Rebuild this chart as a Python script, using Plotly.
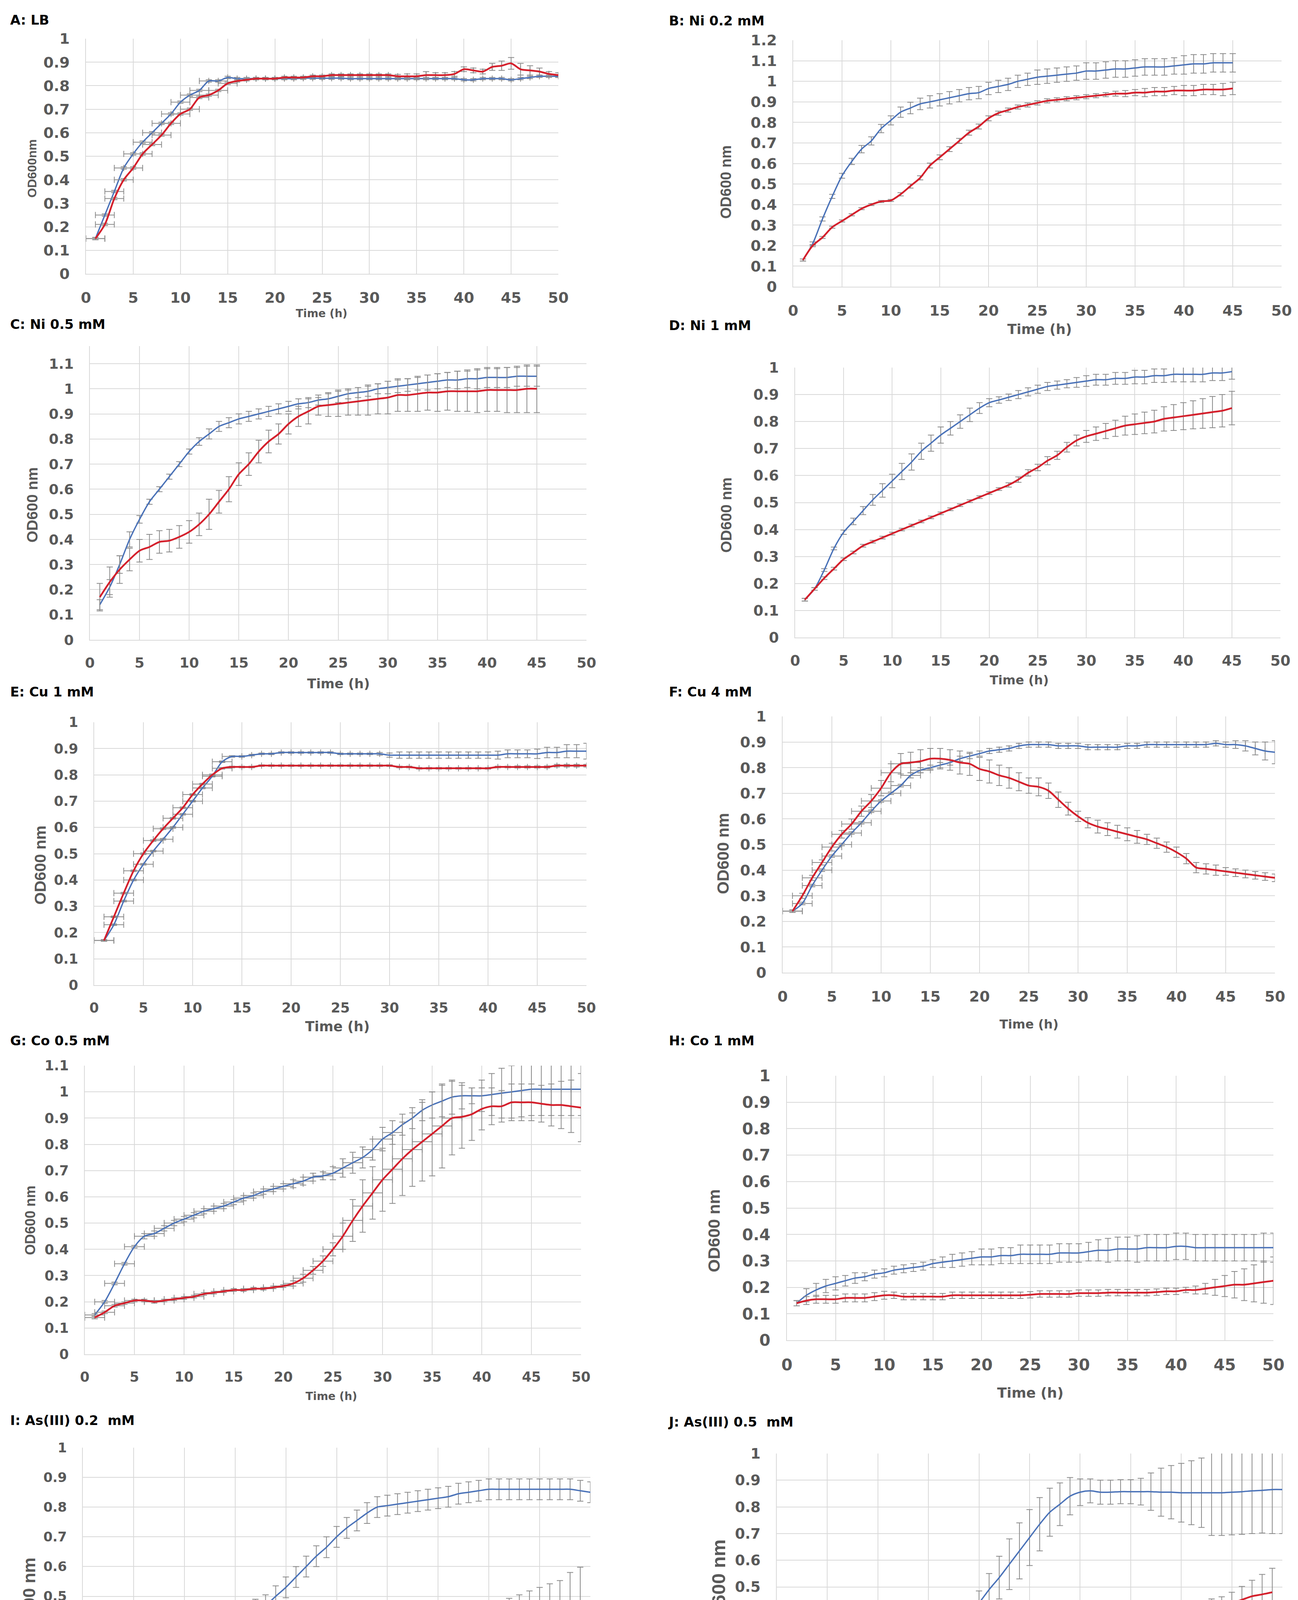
import plotly.graph_objects as go

W, H = 3322, 5624

# time axes (hours)
hours_1_45 = list(range(1, 46))
hours_1_48 = list(range(1, 49))
hours_1_50 = list(range(1, 51))
hours_0_49 = list(range(0, 50))
hours_0_50 = list(range(0, 51))

# ---- A: LB ----
A_blue = [0.15, 0.25, 0.35, 0.45, 0.51, 0.56, 0.60, 0.64, 0.68, 0.73,
          0.76, 0.78, 0.82, 0.82, 0.835, 0.83, 0.83, 0.83, 0.83, 0.83,
          0.83, 0.83, 0.832, 0.832, 0.832, 0.832, 0.832, 0.83, 0.83, 0.83,
          0.83, 0.83, 0.83, 0.83, 0.83, 0.83, 0.83, 0.83, 0.83, 0.825,
          0.825, 0.83, 0.83, 0.83, 0.825, 0.83, 0.835, 0.84, 0.84, 0.84]
A_blue_err = [0.005, 0.005, 0.005, 0.005, 0.005, 0.005, 0.005, 0.005, 0.005, 0.005,
              0.005, 0.005, 0.005, 0.005, 0.005, 0.005, 0.005, 0.005, 0.005, 0.005,
              0.005, 0.005, 0.005, 0.005, 0.005, 0.005, 0.005, 0.005, 0.005, 0.005,
              0.005, 0.005, 0.005, 0.005, 0.005, 0.005, 0.005, 0.005, 0.005, 0.005,
              0.005, 0.005, 0.005, 0.005, 0.005, 0.005, 0.005, 0.005, 0.005, 0.005]
A_blue_xerr = [1, 1, 1, 1, 1, 1, 1, 1, 1, 1,
               1, 1, 1, 1, None, None, None, None, None, None] + [None] * 30
A_red = [0.15, 0.21, 0.32, 0.40, 0.45, 0.51, 0.55, 0.59, 0.64, 0.68,
         0.70, 0.75, 0.76, 0.78, 0.81, 0.82, 0.825, 0.83, 0.83, 0.83,
         0.835, 0.835, 0.835, 0.84, 0.84, 0.845, 0.845, 0.845, 0.845, 0.845,
         0.845, 0.845, 0.84, 0.84, 0.84, 0.845, 0.845, 0.845, 0.85, 0.87,
         0.865, 0.86, 0.88, 0.885, 0.895, 0.87, 0.865, 0.86, 0.85, 0.845]
A_red_err = [0.005, 0.005, 0.005, 0.005, 0.005, 0.005, 0.005, 0.005, 0.005, 0.005,
             0.005, 0.005, 0.005, 0.005, 0.005, 0.005, 0.005, 0.005, 0.005, 0.005,
             0.005, 0.005, 0.005, 0.005, 0.005, 0.005, 0.005, 0.005, 0.005, 0.005,
             0.005, 0.005, 0.008, 0.01, 0.01, 0.015, 0.01, 0.01, 0.01, 0.01,
             0.01, 0.01, 0.015, 0.02, 0.025, 0.025, 0.02, 0.015, 0.01, 0.01]
A_red_xerr = [1, 1, 1, 1, 1, 1, 1, 1, 1, 1,
              1, 1, 1, 1, 1, None, None, None, None, None] + [None] * 30

# ---- B: Ni 0.2 mM ----
B_blue = [0.13, 0.21, 0.33, 0.44, 0.54, 0.61, 0.67, 0.71, 0.77, 0.81,
          0.85, 0.87, 0.89, 0.90, 0.91, 0.92, 0.93, 0.94, 0.945, 0.965,
          0.975, 0.985, 1.0, 1.01, 1.02, 1.025, 1.03, 1.035, 1.04, 1.05,
          1.05, 1.055, 1.06, 1.06, 1.065, 1.07, 1.07, 1.07, 1.075, 1.08,
          1.085, 1.085, 1.09, 1.09, 1.09]
B_blue_err = [0.005, 0.008, 0.01, 0.01, 0.012, 0.015, 0.018, 0.02, 0.02, 0.022,
              0.025, 0.028, 0.028, 0.03, 0.03, 0.03, 0.03, 0.03, 0.03, 0.03,
              0.03, 0.03, 0.03, 0.03, 0.035, 0.035, 0.035, 0.035, 0.035, 0.04,
              0.04, 0.04, 0.04, 0.04, 0.04, 0.04, 0.04, 0.04, 0.04, 0.045,
              0.045, 0.045, 0.045, 0.045, 0.045]
B_red = [0.13, 0.20, 0.24, 0.29, 0.32, 0.35, 0.38, 0.40, 0.415, 0.42,
         0.45, 0.49, 0.53, 0.59, 0.63, 0.67, 0.71, 0.75, 0.78, 0.82,
         0.845, 0.86, 0.875, 0.885, 0.895, 0.905, 0.91, 0.915, 0.92, 0.925,
         0.93, 0.935, 0.94, 0.94, 0.945, 0.945, 0.95, 0.95, 0.955, 0.955,
         0.955, 0.96, 0.96, 0.96, 0.965]
B_red_err = [0.005, 0.005, 0.005, 0.005, 0.005, 0.005, 0.005, 0.005, 0.005, 0.005,
             0.008, 0.01, 0.01, 0.012, 0.012, 0.012, 0.012, 0.012, 0.012, 0.012,
             0.01, 0.01, 0.01, 0.01, 0.01, 0.01, 0.01, 0.01, 0.01, 0.01,
             0.01, 0.01, 0.012, 0.015, 0.015, 0.02, 0.02, 0.02, 0.02, 0.025,
             0.025, 0.025, 0.025, 0.03, 0.03]

# ---- C: Ni 0.5 mM ----
C_blue = [0.14, 0.21, 0.30, 0.40, 0.48, 0.55, 0.60, 0.65, 0.70, 0.75,
          0.79, 0.82, 0.85, 0.865, 0.88, 0.89, 0.90, 0.91, 0.92, 0.93,
          0.94, 0.945, 0.955, 0.96, 0.97, 0.98, 0.985, 0.99, 1.0, 1.005,
          1.01, 1.015, 1.02, 1.025, 1.03, 1.035, 1.035, 1.04, 1.04, 1.045,
          1.045, 1.045, 1.05, 1.05, 1.05]
C_blue_err = [0.02, 0.03, 0.035, 0.03, 0.015, 0.01, 0.01, 0.01, 0.01, 0.01,
              0.015, 0.02, 0.02, 0.02, 0.02, 0.02, 0.02, 0.02, 0.02, 0.02,
              0.02, 0.02, 0.02, 0.025, 0.025, 0.02, 0.02, 0.02, 0.02, 0.025,
              0.025, 0.025, 0.025, 0.03, 0.03, 0.03, 0.035, 0.035, 0.04, 0.04,
              0.04, 0.04, 0.04, 0.04, 0.04]
C_red = [0.17, 0.23, 0.28, 0.32, 0.355, 0.37, 0.39, 0.395, 0.41, 0.43,
         0.46, 0.50, 0.55, 0.60, 0.66, 0.70, 0.75, 0.79, 0.82, 0.86,
         0.89, 0.91, 0.93, 0.935, 0.94, 0.945, 0.95, 0.955, 0.96, 0.965,
         0.975, 0.975, 0.98, 0.985, 0.985, 0.99, 0.99, 0.99, 0.99, 0.995,
         0.995, 0.995, 0.995, 1.0, 1.0]
C_red_err = [0.055, 0.06, 0.055, 0.045, 0.045, 0.05, 0.045, 0.045, 0.045, 0.045,
             0.045, 0.06, 0.045, 0.05, 0.045, 0.045, 0.045, 0.045, 0.04, 0.04,
             0.04, 0.05, 0.035, 0.045, 0.05, 0.05, 0.055, 0.06, 0.06, 0.065,
             0.065, 0.065, 0.07, 0.07, 0.075, 0.075, 0.08, 0.08, 0.085, 0.085,
             0.085, 0.09, 0.09, 0.095, 0.095]

# ---- D: Ni 1 mM ----
D_blue = [0.14, 0.18, 0.25, 0.33, 0.39, 0.43, 0.47, 0.51, 0.545, 0.58,
          0.615, 0.65, 0.69, 0.72, 0.75, 0.775, 0.80, 0.825, 0.85, 0.87,
          0.88, 0.89, 0.90, 0.91, 0.92, 0.93, 0.935, 0.94, 0.945, 0.95,
          0.955, 0.955, 0.96, 0.96, 0.965, 0.965, 0.97, 0.97, 0.975, 0.975,
          0.975, 0.975, 0.98, 0.98, 0.985]
D_blue_err = [0.005, 0.005, 0.005, 0.005, 0.008, 0.012, 0.015, 0.02, 0.025, 0.025,
              0.03, 0.03, 0.03, 0.03, 0.03, 0.025, 0.025, 0.025, 0.02, 0.015,
              0.012, 0.012, 0.015, 0.015, 0.015, 0.015, 0.015, 0.015, 0.018, 0.02,
              0.02, 0.02, 0.022, 0.022, 0.025, 0.025, 0.025, 0.025, 0.028, 0.028,
              0.028, 0.028, 0.028, 0.028, 0.028]
D_red = [0.14, 0.18, 0.22, 0.255, 0.29, 0.315, 0.34, 0.355, 0.37, 0.385,
         0.40, 0.415, 0.43, 0.445, 0.46, 0.475, 0.49, 0.505, 0.52, 0.535,
         0.55, 0.565, 0.585, 0.61, 0.63, 0.655, 0.675, 0.705, 0.73, 0.745,
         0.755, 0.765, 0.775, 0.785, 0.79, 0.795, 0.80, 0.81, 0.815, 0.82,
         0.825, 0.83, 0.835, 0.84, 0.85]
D_red_err = [0.005, 0.005, 0.005, 0.005, 0.005, 0.005, 0.005, 0.005, 0.005, 0.005,
             0.005, 0.005, 0.005, 0.005, 0.005, 0.005, 0.005, 0.005, 0.005, 0.005,
             0.005, 0.008, 0.01, 0.012, 0.012, 0.015, 0.015, 0.018, 0.02, 0.022,
             0.025, 0.028, 0.03, 0.035, 0.038, 0.04, 0.042, 0.045, 0.048, 0.05,
             0.052, 0.055, 0.058, 0.06, 0.062]

# ---- E: Cu 1 mM ----
E_blue = [0.17, 0.23, 0.32, 0.40, 0.46, 0.51, 0.555, 0.60, 0.65, 0.70,
          0.75, 0.795, 0.85, 0.87, 0.87, 0.875, 0.88, 0.88, 0.885, 0.885,
          0.885, 0.885, 0.885, 0.885, 0.88, 0.88, 0.88, 0.88, 0.88, 0.875,
          0.875, 0.875, 0.875, 0.875, 0.875, 0.875, 0.875, 0.875, 0.875, 0.875,
          0.875, 0.88, 0.88, 0.88, 0.88, 0.885, 0.885, 0.89, 0.89, 0.89]
E_blue_err = [0.003, 0.003, 0.003, 0.003, 0.003, 0.003, 0.003, 0.003, 0.003, 0.003,
              0.003, 0.003, 0.003, 0.003, 0.003, 0.003, 0.003, 0.003, 0.003, 0.003,
              0.003, 0.003, 0.003, 0.003, 0.003, 0.003, 0.003, 0.003, 0.005, 0.008,
              0.012, 0.012, 0.012, 0.012, 0.012, 0.012, 0.012, 0.012, 0.012, 0.012,
              0.015, 0.015, 0.015, 0.015, 0.018, 0.02, 0.02, 0.025, 0.025, 0.03]
E_blue_xerr = [1, 1, 1, 1, 1, 1, 1, 1, 1, 1,
               1, 1, 1, 1, None, None, None, None, None, None] + [None] * 30
E_red = [0.17, 0.26, 0.35, 0.435, 0.50, 0.55, 0.595, 0.635, 0.675, 0.725,
         0.765, 0.80, 0.825, 0.83, 0.83, 0.83, 0.835, 0.835, 0.835, 0.835,
         0.835, 0.835, 0.835, 0.835, 0.835, 0.835, 0.835, 0.835, 0.835, 0.835,
         0.83, 0.83, 0.825, 0.825, 0.825, 0.825, 0.825, 0.825, 0.825, 0.825,
         0.83, 0.83, 0.83, 0.83, 0.83, 0.83, 0.835, 0.835, 0.835, 0.835]
E_red_err = [0.003, 0.003, 0.003, 0.003, 0.003, 0.003, 0.003, 0.003, 0.003, 0.003,
             0.003, 0.003, 0.003, 0.003, 0.003, 0.003, 0.003, 0.003, 0.003, 0.003,
             0.003, 0.003, 0.003, 0.003, 0.003, 0.003, 0.003, 0.003, 0.003, 0.003,
             0.003, 0.003, 0.003, 0.003, 0.003, 0.003, 0.003, 0.003, 0.003, 0.003,
             0.003, 0.003, 0.004, 0.004, 0.004, 0.004, 0.005, 0.005, 0.005, 0.005]
E_red_xerr = [1, 1, 1, 1, 1, 1, 1, 1, 1, 1,
              1, 1, 1, None, None, None, None, None, None, None] + [None] * 30

# ---- F: Cu 4 mM ----
F_blue = [0.24, 0.27, 0.34, 0.40, 0.455, 0.50, 0.545, 0.585, 0.63, 0.67,
          0.70, 0.73, 0.77, 0.79, 0.80, 0.81, 0.82, 0.835, 0.845, 0.855,
          0.865, 0.87, 0.875, 0.885, 0.89, 0.89, 0.89, 0.885, 0.885, 0.885,
          0.88, 0.88, 0.88, 0.88, 0.885, 0.885, 0.89, 0.89, 0.89, 0.89,
          0.89, 0.89, 0.89, 0.895, 0.89, 0.89, 0.885, 0.875, 0.865, 0.86]
F_blue_err = [0.005, 0.005, 0.005, 0.005, 0.005, 0.005, 0.005, 0.005, 0.005, 0.005,
              0.005, 0.005, 0.01, 0.01, 0.01, 0.01, 0.01, 0.01, 0.01, 0.01,
              0.01, 0.01, 0.01, 0.01, 0.01, 0.01, 0.01, 0.01, 0.01, 0.01,
              0.01, 0.01, 0.01, 0.01, 0.01, 0.01, 0.01, 0.01, 0.01, 0.01,
              0.01, 0.01, 0.01, 0.01, 0.01, 0.015, 0.02, 0.025, 0.035, 0.045]
F_blue_xerr = [1, 1, 1, 1, 1, 1, 1, 1, 1, 1,
               1, 1, 1, 1, None, None, None, None, None, None] + [None] * 30
F_red = [0.24, 0.30, 0.37, 0.43, 0.49, 0.54, 0.58, 0.63, 0.67, 0.72,
         0.78, 0.815, 0.82, 0.825, 0.835, 0.835, 0.83, 0.82, 0.815, 0.795,
         0.785, 0.77, 0.76, 0.745, 0.73, 0.725, 0.71, 0.675, 0.64, 0.61,
         0.585, 0.57, 0.56, 0.55, 0.54, 0.53, 0.52, 0.505, 0.49, 0.47,
         0.445, 0.41, 0.405, 0.40, 0.395, 0.39, 0.385, 0.38, 0.375, 0.37]
F_red_err = [0.005, 0.01, 0.01, 0.01, 0.015, 0.015, 0.02, 0.02, 0.025, 0.03,
             0.035, 0.04, 0.04, 0.045, 0.04, 0.04, 0.04, 0.045, 0.045, 0.045,
             0.045, 0.04, 0.04, 0.035, 0.03, 0.035, 0.03, 0.03, 0.025, 0.02,
             0.02, 0.025, 0.025, 0.025, 0.025, 0.025, 0.02, 0.02, 0.02, 0.02,
             0.02, 0.02, 0.02, 0.02, 0.015, 0.015, 0.015, 0.015, 0.015, 0.015]
F_red_xerr = [1, 1, 1, 1, 1, 1, 1, 1, 1, 1,
              1, 1, 1, None, None, None, None, None, None, None] + [None] * 30

# ---- G: Co 0.5 mM ----
G_blue = [0.15, 0.20, 0.27, 0.345, 0.41, 0.45, 0.46, 0.48, 0.50, 0.515,
          0.53, 0.545, 0.555, 0.565, 0.58, 0.595, 0.605, 0.62, 0.63, 0.64,
          0.65, 0.66, 0.675, 0.68, 0.69, 0.71, 0.73, 0.75, 0.78, 0.82,
          0.845, 0.875, 0.90, 0.93, 0.95, 0.965, 0.98, 0.985, 0.985, 0.985,
          0.99, 0.995, 1.0, 1.005, 1.01, 1.01, 1.01, 1.01, 1.01, 1.01]
G_blue_err = [0.005, 0.005, 0.005, 0.005, 0.005, 0.01, 0.01, 0.01, 0.01, 0.01,
              0.01, 0.01, 0.01, 0.01, 0.01, 0.01, 0.01, 0.01, 0.01, 0.01,
              0.015, 0.015, 0.015, 0.015, 0.025, 0.035, 0.04, 0.04, 0.04, 0.045,
              0.045, 0.04, 0.04, 0.04, 0.05, 0.06, 0.065, 0.05, 0.03, 0.06,
              0.08, 0.095, 0.1, 0.1, 0.1, 0.1, 0.1, 0.1, 0.1, 0.1]
G_blue_xerr = [1, 1, 1, 1, 1, 1, 1, 1, 1, 1,
               1, 1, 1, 1, 1, 1, 1, 1, 1, 1,
               1, 1, 1, 1, 1, 1, 1, 1, 1, 1,
               1, None, None, None, None, None, None, None, None, None] + [None] * 10
G_red = [0.14, 0.16, 0.185, 0.195, 0.205, 0.205, 0.20, 0.205, 0.21, 0.215,
         0.22, 0.23, 0.235, 0.24, 0.245, 0.245, 0.25, 0.25, 0.255, 0.26,
         0.27, 0.29, 0.32, 0.355, 0.40, 0.45, 0.51, 0.565, 0.615, 0.665,
         0.705, 0.745, 0.78, 0.81, 0.84, 0.87, 0.90, 0.905, 0.915, 0.935,
         0.945, 0.945, 0.96, 0.96, 0.96, 0.955, 0.95, 0.95, 0.945, 0.94]
G_red_err = [0.005, 0.005, 0.005, 0.005, 0.005, 0.005, 0.005, 0.005, 0.005, 0.005,
             0.005, 0.005, 0.005, 0.005, 0.005, 0.005, 0.005, 0.005, 0.005, 0.005,
             0.01, 0.015, 0.015, 0.02, 0.025, 0.05, 0.08, 0.1, 0.1, 0.12,
             0.13, 0.14, 0.14, 0.15, 0.16, 0.16, 0.14, 0.12, 0.1, 0.08,
             0.07, 0.06, 0.07, 0.07, 0.07, 0.07, 0.08, 0.09, 0.1, 0.13]
G_red_xerr = [1, 1, 1, 1, 1, 1, 1, 1, 1, 1,
              1, 1, 1, 1, 1, 1, 1, 1, 1, 1,
              1, 1, 1, 1, 1, 1, 1, 1, 1, 1,
              1, 1, 1, 1, 1, 1, 1, None, None, None] + [None] * 10

# ---- H: Co 1 mM ----
H_blue = [0.14, 0.17, 0.19, 0.205, 0.215, 0.225, 0.235, 0.24, 0.25, 0.255,
          0.265, 0.27, 0.275, 0.28, 0.29, 0.295, 0.30, 0.305, 0.31, 0.315,
          0.315, 0.32, 0.32, 0.325, 0.325, 0.325, 0.325, 0.33, 0.33, 0.33,
          0.335, 0.34, 0.34, 0.345, 0.345, 0.345, 0.35, 0.35, 0.35, 0.355,
          0.355, 0.35, 0.35, 0.35, 0.35, 0.35, 0.35, 0.35, 0.35, 0.35]
H_blue_err = [0.01, 0.025, 0.025, 0.025, 0.025, 0.02, 0.02, 0.015, 0.015, 0.015,
              0.015, 0.015, 0.015, 0.015, 0.015, 0.02, 0.025, 0.025, 0.025, 0.03,
              0.03, 0.03, 0.03, 0.035, 0.035, 0.035, 0.035, 0.035, 0.035, 0.035,
              0.035, 0.04, 0.045, 0.045, 0.045, 0.05, 0.05, 0.05, 0.05, 0.05,
              0.05, 0.05, 0.05, 0.05, 0.05, 0.05, 0.05, 0.05, 0.055, 0.055]
H_red = [0.14, 0.15, 0.155, 0.155, 0.155, 0.16, 0.16, 0.16, 0.165, 0.17,
         0.17, 0.165, 0.165, 0.165, 0.165, 0.165, 0.17, 0.17, 0.17, 0.17,
         0.17, 0.17, 0.17, 0.17, 0.172, 0.175, 0.175, 0.175, 0.175, 0.178,
         0.178, 0.178, 0.18, 0.18, 0.18, 0.18, 0.18, 0.182, 0.185, 0.185,
         0.19, 0.19, 0.195, 0.20, 0.205, 0.21, 0.21, 0.215, 0.22, 0.225]
H_red_err = [0.01, 0.015, 0.015, 0.015, 0.015, 0.015, 0.015, 0.015, 0.015, 0.015,
             0.012, 0.012, 0.012, 0.012, 0.012, 0.012, 0.012, 0.012, 0.012, 0.012,
             0.012, 0.012, 0.012, 0.012, 0.012, 0.012, 0.012, 0.012, 0.012, 0.012,
             0.012, 0.012, 0.012, 0.012, 0.012, 0.012, 0.012, 0.012, 0.012, 0.012,
             0.01, 0.015, 0.02, 0.03, 0.04, 0.05, 0.06, 0.07, 0.08, 0.09]

# ---- I: As(III) 0.2 mM ----
I_blue = [0.12, 0.13, 0.145, 0.165, 0.19, 0.215, 0.25, 0.285, 0.31, 0.335,
          0.36, 0.385, 0.40, 0.41, 0.42, 0.43, 0.44, 0.455, 0.47, 0.50,
          0.53, 0.565, 0.60, 0.635, 0.665, 0.70, 0.73, 0.755, 0.78, 0.80,
          0.805, 0.81, 0.815, 0.82, 0.825, 0.83, 0.835, 0.845, 0.85, 0.855,
          0.86, 0.86, 0.86, 0.86, 0.86, 0.86, 0.86, 0.86, 0.86, 0.855, 0.85]
I_blue_err = [0.035, 0.035, 0.035, 0.035, 0.035, 0.035, 0.035, 0.035, 0.035, 0.035,
              0.035, 0.035, 0.035, 0.035, 0.035, 0.035, 0.035, 0.035, 0.035, 0.035,
              0.035, 0.035, 0.035, 0.035, 0.035, 0.035, 0.035, 0.035, 0.035, 0.035,
              0.035, 0.035, 0.035, 0.035, 0.035, 0.035, 0.035, 0.035, 0.035, 0.035,
              0.035, 0.035, 0.035, 0.035, 0.035, 0.035, 0.035, 0.035, 0.035, 0.035, 0.035]
I_red = [0.13, 0.15, 0.185, 0.235, 0.28, 0.32, 0.345, 0.355, 0.36, 0.365,
         0.368, 0.37, 0.37, 0.37, 0.37, 0.37, 0.37, 0.37, 0.37, 0.37,
         0.37, 0.37, 0.368, 0.368, 0.368, 0.367, 0.367, 0.366, 0.365, 0.362,
         0.36, 0.36, 0.36, 0.362, 0.366, 0.37, 0.375, 0.383, 0.39, 0.40,
         0.41, 0.42, 0.428, 0.435, 0.443, 0.45, 0.457, 0.463, 0.47, 0.478]
I_red_err = [0.004, 0.004, 0.004, 0.004, 0.004, 0.004, 0.004, 0.004, 0.004, 0.004,
             0.004, 0.004, 0.004, 0.004, 0.004, 0.004, 0.004, 0.004, 0.004, 0.004,
             0.004, 0.004, 0.004, 0.004, 0.004, 0.004, 0.004, 0.004, 0.008, 0.012,
             0.015, 0.02, 0.025, 0.025, 0.03, 0.03, 0.035, 0.04, 0.045, 0.05,
             0.055, 0.06, 0.065, 0.07, 0.075, 0.08, 0.085, 0.09, 0.11, 0.12]

# ---- J: As(III) 0.5 mM ----
J_blue = [0.13, 0.145, 0.165, 0.18, 0.19, 0.20, 0.205, 0.21, 0.215, 0.218,
          0.22, 0.225, 0.23, 0.24, 0.25, 0.265, 0.29, 0.32, 0.36, 0.40,
          0.44, 0.49, 0.535, 0.585, 0.635, 0.685, 0.735, 0.78, 0.81, 0.84,
          0.855, 0.86, 0.855, 0.855, 0.857, 0.857, 0.857, 0.857, 0.855, 0.855,
          0.853, 0.853, 0.853, 0.853, 0.853, 0.855, 0.857, 0.86, 0.862, 0.865, 0.865]
J_blue_err = [0.003, 0.003, 0.003, 0.003, 0.003, 0.003, 0.003, 0.003, 0.003, 0.003,
              0.005, 0.005, 0.005, 0.005, 0.01, 0.015, 0.02, 0.025, 0.03, 0.035,
              0.045, 0.06, 0.08, 0.095, 0.105, 0.105, 0.1, 0.09, 0.08, 0.07,
              0.05, 0.045, 0.045, 0.045, 0.045, 0.045, 0.05, 0.07, 0.09, 0.1,
              0.11, 0.12, 0.13, 0.16, 0.16, 0.16, 0.16, 0.16, 0.16, 0.165, 0.165]
J_red = [0.13, 0.145, 0.17, 0.19, 0.20, 0.21, 0.218, 0.225, 0.232, 0.238,
         0.245, 0.252, 0.26, 0.27, 0.278, 0.287, 0.295, 0.303, 0.31, 0.318,
         0.32, 0.322, 0.325, 0.33, 0.332, 0.335, 0.338, 0.34, 0.343, 0.347,
         0.35, 0.352, 0.355, 0.358, 0.365, 0.372, 0.375, 0.38, 0.385, 0.39,
         0.397, 0.405, 0.415, 0.42, 0.428, 0.44, 0.452, 0.465, 0.472, 0.48]
J_red_err = [0.005, 0.005, 0.005, 0.005, 0.005, 0.005, 0.005, 0.005, 0.005, 0.005,
             0.01, 0.01, 0.012, 0.015, 0.015, 0.018, 0.02, 0.02, 0.022, 0.022,
             0.022, 0.025, 0.025, 0.022, 0.022, 0.022, 0.022, 0.022, 0.02, 0.02,
             0.02, 0.02, 0.02, 0.022, 0.022, 0.022, 0.022, 0.022, 0.022, 0.025,
             0.025, 0.03, 0.03, 0.035, 0.035, 0.04, 0.05, 0.06, 0.075, 0.09]

# ---- K: As(V) 0.2 mM ----
K_blue = [0.15, 0.22, 0.30, 0.37, 0.43, 0.46, 0.48, 0.495, 0.505, 0.515,
          0.525, 0.53, 0.54, 0.55, 0.56, 0.57, 0.58, 0.59, 0.60, 0.61,
          0.63, 0.665, 0.70, 0.745, 0.79, 0.83, 0.865, 0.895, 0.92, 0.95,
          0.97, 0.99, 1.03, 1.035, 1.04, 1.04, 1.045, 1.045, 1.045, 1.045,
          1.045, 1.05, 1.05, 1.05, 1.065, 1.07, 1.07, 1.07]
K_blue_err = [0.005, 0.01, 0.015, 0.015, 0.015, 0.015, 0.02, 0.02, 0.02, 0.025,
              0.025, 0.025, 0.025, 0.025, 0.025, 0.025, 0.025, 0.025, 0.025, 0.025,
              0.025, 0.02, 0.03, 0.03, 0.03, 0.03, 0.03, 0.03, 0.04, 0.04,
              0.04, 0.05, 0.05, 0.05, 0.05, 0.05, 0.05, 0.05, 0.05, 0.05,
              0.05, 0.05, 0.05, 0.05, 0.05, 0.05, 0.05, 0.05]
K_blue_xerr = [None, None, None, None, None, None, None, None, None, None,
               None, None, None, None, None, None, None, None, None, None,
               1, 1, 1, 1, 1, 1, 1, 1, 1, 1,
               1, 1, 1, 1, 1, None, None, None, None, None,
               None, None, None, 1, 1, 1, 1, 2]
K_red = [0.145, 0.20, 0.26, 0.31, 0.355, 0.39, 0.43, 0.49, 0.56, 0.58,
         0.60, 0.625, 0.635, 0.645, 0.675, 0.675, 0.68, 0.69, 0.695, 0.705,
         0.71, 0.73, 0.725, 0.73, 0.735, 0.735, 0.735, 0.735, 0.735, 0.735,
         0.735, 0.73, 0.73, 0.73, 0.735, 0.735, 0.74, 0.74, 0.74, 0.745,
         0.75, 0.75, 0.75, 0.75, 0.745, 0.73, 0.73, 0.725]
K_red_err = [0.005, 0.005, 0.005, 0.005, 0.005, 0.005, 0.005, 0.01, 0.01, 0.01,
             0.01, 0.01, 0.01, 0.01, 0.015, 0.015, 0.015, 0.015, 0.015, 0.015,
             0.015, 0.015, 0.015, 0.02, 0.025, 0.025, 0.025, 0.03, 0.03, 0.03,
             0.03, 0.03, 0.03, 0.03, 0.03, 0.03, 0.03, 0.02, 0.02, 0.015,
             0.015, 0.015, 0.01, 0.01, 0.01, 0.01, 0.01, 0.01]
K_red_xerr = [None, None, None, None, None, None, None, None, None, None,
              None, None, None, None, None, None, None, None, None, None,
              None, 1, 1, 1, 1, 1, None, None, None, None] + [None] * 18

# ---- L: As(V) 1 mM ----
L_blue = [0.15, 0.195, 0.205, 0.21, 0.212, 0.214, 0.216, 0.218, 0.222, 0.23,
          0.245, 0.28, 0.335, 0.395, 0.425, 0.435, 0.445, 0.455, 0.46, 0.462,
          0.465, 0.467, 0.468, 0.47, 0.47, 0.472, 0.472, 0.472, 0.472, 0.472,
          0.478, 0.478, 0.485, 0.495, 0.50, 0.50, 0.515, 0.535, 0.555, 0.58,
          0.61, 0.635, 0.655, 0.675, 0.71, 0.725, 0.74, 0.75]
L_blue_err = [0.005, 0.005, 0.005, 0.003, 0.003, 0.003, 0.003, 0.003, 0.005, 0.005,
              0.005, 0.008, 0.008, 0.008, 0.008, 0.01, 0.01, 0.012, 0.012, 0.012,
              0.015, 0.015, 0.015, 0.015, 0.015, 0.02, 0.02, 0.02, 0.02, 0.02,
              0.02, 0.02, 0.015, 0.015, 0.015, 0.015, 0.015, 0.02, 0.02, 0.025,
              0.04, 0.045, 0.06, 0.075, 0.09, 0.11, 0.13, 0.14]
L_red = [0.145, 0.17, 0.18, 0.185, 0.188, 0.19, 0.193, 0.196, 0.198, 0.20,
         0.202, 0.205, 0.212, 0.22, 0.235, 0.243, 0.25, 0.262, 0.275, 0.30,
         0.303, 0.318, 0.33, 0.343, 0.35, 0.365, 0.365, 0.375, 0.39, 0.39,
         0.39, 0.39, 0.395, 0.40, 0.405, 0.41, 0.405, 0.415, 0.405, 0.41,
         0.415, 0.415, 0.415, 0.42, 0.43, 0.42, 0.42, 0.425]
L_red_err = [0.003, 0.003, 0.003, 0.003, 0.003, 0.003, 0.003, 0.003, 0.003, 0.003,
             0.003, 0.003, 0.003, 0.003, 0.003, 0.003, 0.003, 0.003, 0.003, 0.003,
             0.005, 0.005, 0.005, 0.005, 0.005, 0.008, 0.01, 0.012, 0.015, 0.015,
             0.018, 0.02, 0.025, 0.025, 0.025, 0.03, 0.03, 0.03, 0.03, 0.03,
             0.03, 0.03, 0.035, 0.03, 0.035, 0.035, 0.025, 0.025]

BLUE = "#4A72B8"
RED = "#D4202C"
ERR = "#8A8A8A"
GRID = "#D9D9D9"
GREY = "#595959"
WIDE = "DejaVu Sans"          # stands in for the stretched Calibri of the source
AXIS_FONT = "Liberation Sans"
NBSP = "\u00a0"

# panel geometry in pixels: plot area left/right, top/bottom, y range top
panels = [
    dict(title="A: LB", tx=16, ty=43, x0=212, x1=1421, yt=91, yb=693, ymax=1.0,
         ylab="OD600nm", ylx=74, yly=424, ylsize=32, xtx=815, xty=795, xtsize=28, tick=38,
         t_b=hours_1_50, b=A_blue, be=A_blue_err, bx=A_blue_xerr,
         t_r=hours_1_50, r=A_red, re=A_red_err, rx=A_red_xerr),
    dict(title="B: Ni 0.2 mM", tx=1702, ty=45, x0=2022, x1=3272, yt=95, yb=726, ymax=1.2,
         ylab="OD600 nm", ylx=1850, yly=458, ylsize=38, xtx=2652, xty=835, xtsize=35, tick=38,
         t_b=hours_1_45, b=B_blue, be=B_blue_err, bx=None,
         t_r=hours_1_45, r=B_red, re=B_red_err, rx=None),
    dict(title="C: Ni 0.5 mM", tx=16, ty=822, x0=222, x1=1493, yt=878, yb=1630, ymax=1.17,
         ylab="OD600 nm", ylx=74, yly=1285, ylsize=39, xtx=858, xty=1742, xtsize=34, tick=36,
         t_b=hours_1_45, b=C_blue, be=C_blue_err, bx=None,
         t_r=hours_1_45, r=C_red, re=C_red_err, rx=None),
    dict(title="D: Ni 1 mM", tx=1702, ty=825, x0=2027, x1=3269, yt=933, yb=1624, ymax=1.0,
         ylab="OD600 nm", ylx=1850, yly=1311, ylsize=39, xtx=2600, xty=1733, xtsize=32, tick=37,
         t_b=hours_1_45, b=D_blue, be=D_blue_err, bx=None,
         t_r=hours_1_45, r=D_red, re=D_red_err, rx=None),
    dict(title="E: Cu 1 mM", tx=16, ty=1763, x0=233, x1=1493, yt=1841, yb=2514, ymax=1.0,
         ylab="OD600 nm", ylx=95, yly=2207, ylsize=41, xtx=855, xty=2620, xtsize=35, tick=35,
         t_b=hours_1_50, b=E_blue, be=E_blue_err, bx=E_blue_xerr,
         t_r=hours_1_50, r=E_red, re=E_red_err, rx=E_red_xerr),
    dict(title="F: Cu 4 mM", tx=1702, ty=1763, x0=1995, x1=3255, yt=1826, yb=2482, ymax=1.0,
         ylab="OD600 nm", ylx=1842, yly=2177, ylsize=42, xtx=2625, xty=2614, xtsize=32, tick=38,
         t_b=hours_1_50, b=F_blue, be=F_blue_err, bx=F_blue_xerr,
         t_r=hours_1_50, r=F_red, re=F_red_err, rx=F_red_xerr),
    dict(title="G: Co 0.5 mM", tx=16, ty=2656, x0=209, x1=1479, yt=2720, yb=3459, ymax=1.1,
         ylab="OD600 nm", ylx=69, yly=3116, ylsize=36, xtx=840, xty=3566, xtsize=28, tick=35,
         t_b=hours_1_50, b=G_blue, be=G_blue_err, bx=G_blue_xerr,
         t_r=hours_1_50, r=G_red, re=G_red_err, rx=G_red_xerr),
    dict(title="H: Co 1 mM", tx=1702, ty=2656, x0=2006, x1=3251, yt=2746, yb=3423, ymax=1.0,
         ylab="OD600 nm", ylx=1819, yly=3143, ylsize=43, xtx=2629, xty=3557, xtsize=36, tick=41,
         t_b=hours_1_50, b=H_blue, be=H_blue_err, bx=None,
         t_r=hours_1_50, r=H_red, re=H_red_err, rx=None),
    dict(title="I: As(III) 0.2" + NBSP + " mM", tx=16, ty=3628, x0=204, x1=1503, yt=3698, yb=4459,
         ymax=1.0, ylab="OD600 nm", ylx=66, yly=4088, ylsize=44, xtx=845, xty=4580, xtsize=34, tick=34,
         t_b=hours_0_50, b=I_blue, be=I_blue_err, bx=None,
         t_r=hours_0_49, r=I_red, re=I_red_err, rx=None),
    dict(title="J: As(III) 0.5" + NBSP + " mM", tx=1700, ty=3632, x0=1980, x1=3274, yt=3713, yb=4396,
         ymax=1.0, ylab="OD600 nm", ylx=1831, yly=4054, ylsize=49, xtx=2634, xty=4528, xtsize=35, tick=37,
         t_b=hours_0_50, b=J_blue, be=J_blue_err, bx=None,
         t_r=hours_0_49, r=J_red, re=J_red_err, rx=None),
    dict(title="K: As(V) 0.2" + NBSP + " mM", tx=16, ty=4594, x0=204, x1=1429, yt=4709, yb=5463,
         ymax=1.2, ylab="OD600 nm", ylx=37, yly=5140, ylsize=38, xtx=815, xty=5572, xtsize=37, tick=39,
         t_b=hours_1_48, b=K_blue, be=K_blue_err, bx=K_blue_xerr,
         t_r=hours_1_48, r=K_red, re=K_red_err, rx=K_red_xerr),
    dict(title="L: As(V) 1 mM", tx=1702, ty=4598, x0=1993, x1=3278, yt=4716, yb=5461, ymax=1.0,
         ylab="OD600 nm", ylx=1798, yly=5098, ylsize=39, xtx=2634, xty=5587, xtsize=35, tick=40,
         t_b=hours_1_48, b=L_blue, be=L_blue_err, bx=None,
         t_r=hours_1_48, r=L_red, re=L_red_err, rx=None),
]


def err_y(arr):
    return dict(type="data", array=arr, color=ERR, thickness=2, width=8)


def err_x(arr):
    if arr is None:
        return dict(visible=False)
    return dict(type="data", array=arr, color=ERR, thickness=2, width=8)


fig = go.Figure()
layout = dict(width=W, height=H, margin=dict(l=0, r=0, t=0, b=0), autosize=False,
              paper_bgcolor="white", plot_bgcolor="white", showlegend=False,
              annotations=[], shapes=[])

for i, p in enumerate(panels, start=1):
    sfx = "" if i == 1 else str(i)
    xa, ya = "x" + sfx, "y" + sfx

    fig.add_trace(go.Scatter(x=p["t_b"], y=p["b"], mode="lines", xaxis=xa, yaxis=ya,
                             line=dict(color=BLUE, width=3.5, shape="spline", smoothing=0.8),
                             error_y=err_y(p["be"]), error_x=err_x(p["bx"])))
    fig.add_trace(go.Scatter(x=p["t_r"], y=p["r"], mode="lines", xaxis=xa, yaxis=ya,
                             line=dict(color=RED, width=4.5, shape="spline", smoothing=0.8),
                             error_y=err_y(p["re"]), error_x=err_x(p["rx"])))

    tickfont = dict(family=WIDE, size=p["tick"], color=GREY, weight="bold")
    layout["xaxis" + sfx] = dict(
        domain=[p["x0"] / W, p["x1"] / W], anchor=ya, range=[0, 50], tick0=0, dtick=5,
        showgrid=True, gridcolor=GRID, gridwidth=2, zeroline=False,
        showline=True, linecolor=GRID, linewidth=2, ticks="",
        ticklabelstandoff=26, tickfont=tickfont, automargin=False, fixedrange=True)
    layout["yaxis" + sfx] = dict(
        domain=[1 - p["yb"] / H, 1 - p["yt"] / H], anchor=xa, range=[0, p["ymax"]],
        tick0=0, dtick=0.1, showgrid=True, gridcolor=GRID, gridwidth=2, zeroline=False,
        showline=True, linecolor=GRID, linewidth=2, ticks="",
        ticklabelstandoff=32, tickfont=tickfont, automargin=False, fixedrange=True)

    layout["annotations"].append(dict(
        text=p["title"], xref="paper", yref="paper", x=p["tx"] / W, y=1 - p["ty"] / H,
        xanchor="left", yanchor="middle", showarrow=False,
        font=dict(family=WIDE, size=34, color="black", weight="bold")))
    layout["annotations"].append(dict(
        text=p["ylab"], xref="paper", yref="paper", x=p["ylx"] / W, y=1 - p["yly"] / H,
        xanchor="center", yanchor="middle", textangle=-90, showarrow=False,
        font=dict(family=AXIS_FONT, size=p["ylsize"], color=GREY, weight="bold")))
    layout["annotations"].append(dict(
        text="Time (h)", xref="paper", yref="paper", x=p["xtx"] / W, y=1 - p["xty"] / H,
        xanchor="center", yanchor="middle", showarrow=False,
        font=dict(family=WIDE, size=p["xtsize"], color=GREY, weight="bold")))

# thin rule under panel K
layout["shapes"].append(dict(type="line", xref="paper", yref="paper",
                             x0=0, x1=1482 / W, y0=1 - 5599 / H, y1=1 - 5599 / H,
                             line=dict(color=GRID, width=3)))

fig.update_layout(**layout)
fig.write_html("out.html")
